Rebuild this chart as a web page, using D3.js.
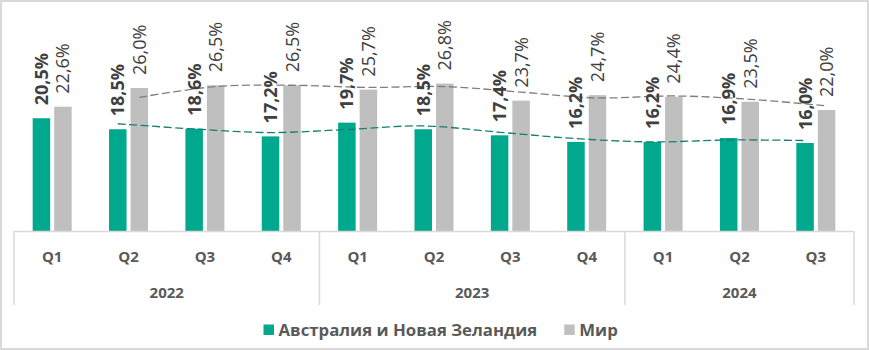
<!DOCTYPE html>
<html>
<head>
<meta charset="utf-8">
<script src="https://cdn.jsdelivr.net/npm/d3@7"></script>
<style>
  html, body { margin: 0; padding: 0; background: #fff; }
  svg { display: block; font-family: "Open Sans", "Noto Sans", sans-serif; }
</style>
</head>
<body>
<svg id="chart" width="869" height="350"></svg>
<script>
// Quarterly share, %: Australia & New Zealand vs. world
const quarters = ["Q1", "Q2", "Q3", "Q4", "Q1", "Q2", "Q3", "Q4", "Q1", "Q2", "Q3"];
const years = ["2022", "2022", "2022", "2022", "2023", "2023", "2023", "2023", "2024", "2024", "2024"];
const yearGroups = ["2022", "2023", "2024"];
const seriesNames = ["Австралия и Новая Зеландия", "Мир"];
const anzValues = [20.5, 18.5, 18.6, 17.2, 19.7, 18.5, 17.4, 16.2, 16.2, 16.9, 16.0];
const worldValues = [22.6, 26.0, 26.5, 26.5, 25.7, 26.8, 23.7, 24.7, 24.4, 23.5, 22.0];
const trendPeriod = 2; // moving-average trendline period

const W = 869, H = 350;
const svg = d3.select("#chart");
const colors = { anz: "#00A88E", world: "#BFBFBF", anzTrend: "#14806D", worldTrend: "#7F7F7F", axis: "#D9D9D9", text: "#404040", axisText: "#595959" };

// outer frame
svg.append("rect").attr("x", 1).attr("y", 1).attr("width", W - 2).attr("height", H - 2)
  .attr("fill", "#fff").attr("stroke", colors.axis).attr("stroke-width", 2);

const plot = { left: 14, right: 854, base: 231 };
const idx = d3.range(quarters.length);
const x = d3.scaleBand().domain(idx).range([plot.left, plot.right]).paddingInner(0).paddingOuter(0);
const y = d3.scaleLinear().domain([0, 40]).range([plot.base, plot.base - 220]);

const barW = 17.5, barGap = 4;
const xAnz = i => x(i) + x.bandwidth() / 2 - barGap / 2 - barW;
const xWorld = i => x(i) + x.bandwidth() / 2 + barGap / 2;

const fmt = v => d3.format(".1f")(v).replace(".", ",") + "%";

// bars
svg.append("g").selectAll("rect").data(idx).join("rect")
  .attr("x", xAnz).attr("width", barW)
  .attr("y", i => y(anzValues[i])).attr("height", i => y(0) - y(anzValues[i]))
  .attr("fill", colors.anz);
svg.append("g").selectAll("rect").data(idx).join("rect")
  .attr("x", xWorld).attr("width", barW)
  .attr("y", i => y(worldValues[i])).attr("height", i => y(0) - y(worldValues[i]))
  .attr("fill", colors.world);

// moving-average trendlines
function movingAverage(vals, period) {
  return idx.slice(period - 1).map(i => ({ i, v: d3.mean(vals.slice(i - period + 1, i + 1)) }));
}
const trendLine = (xf) => d3.line().x(d => xf(d.i) + barW / 2).y(d => y(d.v)).curve(d3.curveCatmullRom.alpha(0.5));
svg.append("path").datum(movingAverage(worldValues, trendPeriod))
  .attr("d", trendLine(xWorld)).attr("fill", "none")
  .attr("stroke", colors.worldTrend).attr("stroke-width", 1.3).attr("stroke-dasharray", "8,3.5");
svg.append("path").datum(movingAverage(anzValues, trendPeriod))
  .attr("d", trendLine(xAnz)).attr("fill", "none")
  .attr("stroke", colors.anzTrend).attr("stroke-width", 1.3).attr("stroke-dasharray", "8,3.5");

// value labels, rotated
const labelOffset = 13;
function labels(vals, xf, weight) {
  svg.append("g").selectAll("text").data(idx).join("text")
    .attr("transform", i => `translate(${xf(i) + barW / 2},${y(vals[i]) - labelOffset}) rotate(-90)`)
    .attr("dy", "0.36em")
    .attr("text-anchor", "start")
    .attr("font-size", 18).attr("font-weight", weight)
    .attr("fill", colors.text)
    .text(i => fmt(vals[i]));
}
labels(anzValues, xAnz, 700);
labels(worldValues, xWorld, 400);

// category axis box
const axisG = svg.append("g").attr("stroke", colors.axis).attr("stroke-width", 1.5).attr("fill", "none");
axisG.append("line").attr("x1", plot.left).attr("x2", plot.right).attr("y1", plot.base + 0.5).attr("y2", plot.base + 0.5);
const groupEdges = [0].concat(yearGroups.map(yr => d3.max(idx.filter(i => years[i] === yr)) + 1));
groupEdges.forEach(e => {
  const xe = e === quarters.length ? plot.right : x(e);
  axisG.append("line").attr("x1", xe).attr("x2", xe).attr("y1", plot.base).attr("y2", 305);
});

svg.append("g").selectAll("text").data(idx).join("text")
  .attr("x", i => x(i) + x.bandwidth() / 2).attr("y", 257)
  .attr("dy", "0.35em").attr("text-anchor", "middle")
  .attr("font-size", 15).attr("font-weight", 700).attr("fill", colors.axisText)
  .text(i => quarters[i]);

svg.append("g").selectAll("text").data(yearGroups).join("text")
  .attr("x", yr => { const ii = idx.filter(i => years[i] === yr); return (x(ii[0]) + x(ii[ii.length - 1]) + x.bandwidth()) / 2; })
  .attr("y", 293)
  .attr("dy", "0.35em").attr("text-anchor", "middle")
  .attr("font-size", 15).attr("font-weight", 700).attr("fill", colors.axisText)
  .text(d => d);

// legend
const legend = svg.append("g").attr("font-size", 16.8).attr("font-weight", 700).attr("fill", colors.axisText);
const legendItems = [{ name: seriesNames[0], color: colors.anz }, { name: seriesNames[1], color: colors.world }];
let lx = 263.5;
legendItems.forEach((it, k) => {
  const g = legend.append("g").attr("transform", `translate(${lx},0)`);
  g.append("rect").attr("x", 0).attr("y", 324.5).attr("width", 10.5).attr("height", 10.5).attr("fill", it.color);
  const t = g.append("text").attr("x", 15).attr("y", 330).attr("dy", "0.35em").text(it.name);
  lx += 15 + t.node().getComputedTextLength() + 27;
});
</script>
</body>
</html>
